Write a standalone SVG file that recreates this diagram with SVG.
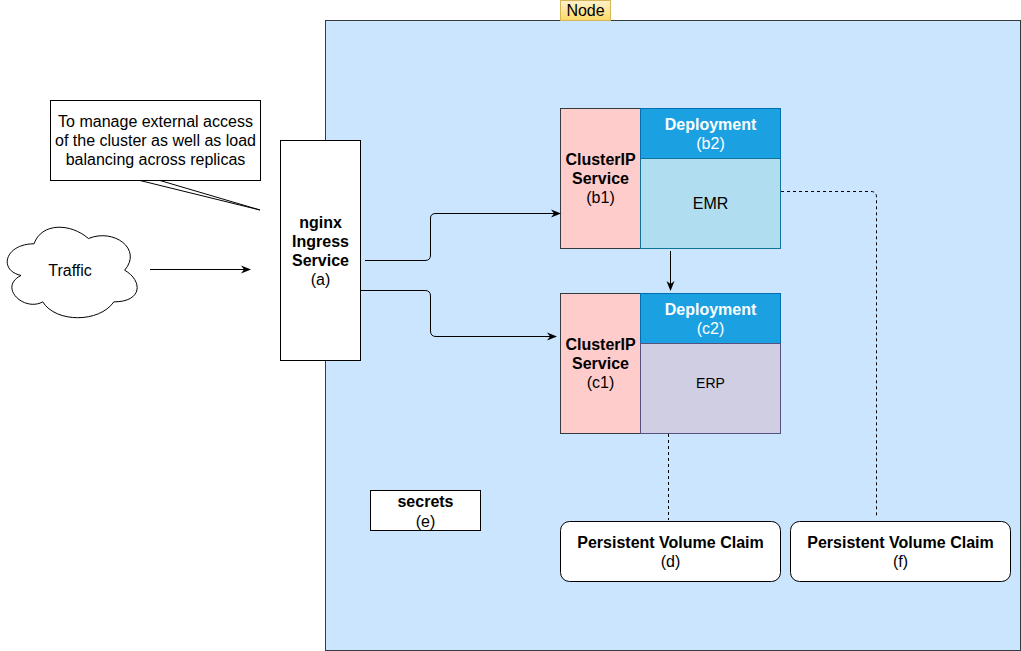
<svg xmlns="http://www.w3.org/2000/svg" width="1021" height="651" viewBox="0 0 1021 651">
<defs>
<linearGradient id="ng" x1="0" y1="0" x2="0" y2="1"><stop offset="0" stop-color="#fff2cc"/><stop offset="1" stop-color="#ffd966"/></linearGradient>
<marker id="ar" viewBox="0 0 10 10" refX="9" refY="5" markerWidth="10" markerHeight="10" markerUnits="userSpaceOnUse" orient="auto"><path d="M0,1 L10,5 L0,9 L3,5 Z" fill="#000"/></marker>
</defs>
<style>
text{font-family:"Liberation Sans",Arial,Helvetica,sans-serif;font-size:16px;text-anchor:middle;fill:#000}
.b{font-weight:bold}
.w{fill:#fff}
.conn{fill:none;stroke:#000;stroke-width:1}
.dash{fill:none;stroke:#000;stroke-width:1;stroke-dasharray:3 3}
.box{fill:#fff;stroke:#000;stroke-width:1}
</style>
<rect width="1021" height="651" fill="#fff"/>
<g id="node-container">
<rect x="325.5" y="20.5" width="695" height="630" fill="#cce5ff" stroke="#36393d"/>
<rect x="560.5" y="0.5" width="50" height="20" fill="url(#ng)" stroke="#d6b656"/>
<text x="585.5" y="16">Node</text>
</g>
<g id="callout">
<rect x="50.5" y="100.5" width="210" height="80" class="box"/>
<path d="M140,180.5 L260,210 L160,180.5" class="conn"/>
<text x="155.5" y="127">To manage external access</text>
<text x="155.5" y="146">of the cluster as well as load</text>
<text x="155.5" y="165">balancing across replicas</text>
</g>
<g id="traffic">
<path transform="translate(72,272) scale(1.133,1.2) translate(-73.5,-273.5)" vector-effect="non-scaling-stroke" d="M40,250 C14.4,250 8,272 28.5,276.4 C8,286 31,307 47.7,298.4 C59.2,316 97.6,316 110.4,298.4 C136,298.4 136,280.8 120,272 C136,254.4 110.4,236.8 88,245.6 C72,232.4 46.4,232.4 40,250 Z" fill="#fff" stroke="#000"/>
<text x="70" y="276">Traffic</text>
</g>
<g id="nginx">
<rect x="280.5" y="140.5" width="80" height="220" class="box"/>
<text x="320.5" y="228" class="b">nginx</text>
<text x="320.5" y="247" class="b">Ingress</text>
<text x="320.5" y="266" class="b">Service</text>
<text x="320.5" y="285">(a)</text>
</g>
<g id="b1">
<rect x="560.5" y="108.5" width="80" height="140" fill="#ffcccc" stroke="#36393d"/>
<text x="600.5" y="165" class="b">ClusterIP</text>
<text x="600.5" y="184" class="b">Service</text>
<text x="600.5" y="203">(b1)</text>
</g>
<g id="b2">
<rect x="640.5" y="108.5" width="140" height="50" fill="#1ba1e2" stroke="#006eaf"/>
<text x="710.5" y="130" class="b w">Deployment</text>
<text x="710.5" y="149" class="w">(b2)</text>
<rect x="640.5" y="158.5" width="140" height="90" fill="#b1ddf0" stroke="#10739e"/>
<text x="710.5" y="209">EMR</text>
</g>
<g id="c1">
<rect x="560.5" y="293.5" width="80" height="140" fill="#ffcccc" stroke="#36393d"/>
<text x="600.5" y="350" class="b">ClusterIP</text>
<text x="600.5" y="369" class="b">Service</text>
<text x="600.5" y="388">(c1)</text>
</g>
<g id="c2">
<rect x="640.5" y="293.5" width="140" height="50" fill="#1ba1e2" stroke="#006eaf"/>
<text x="710.5" y="315" class="b w">Deployment</text>
<text x="710.5" y="334" class="w">(c2)</text>
<rect x="640.5" y="343.5" width="140" height="90" fill="#d0cee2" stroke="#56517e"/>
<text x="710.5" y="388" style="font-size:14px">ERP</text>
</g>
<g id="secrets">
<rect x="370.5" y="490.5" width="110" height="40" class="box"/>
<text x="425.5" y="507" class="b">secrets</text>
<text x="425.5" y="527">(e)</text>
</g>
<g id="pvc-d">
<rect x="560.5" y="521.5" width="220" height="60" rx="9" class="box"/>
<text x="670.5" y="548" class="b">Persistent Volume Claim</text>
<text x="670.5" y="567">(d)</text>
</g>
<g id="pvc-f">
<rect x="790.5" y="521.5" width="220" height="60" rx="9" class="box"/>
<text x="900.5" y="548" class="b">Persistent Volume Claim</text>
<text x="900.5" y="567">(f)</text>
</g>
<g id="connectors">
<path d="M150,269.5 L250,269.5" class="conn" marker-end="url(#ar)"/>
<path d="M365,260.5 L425,260.5 Q430.5,260.5 430.5,255 L430.5,218 Q430.5,213.5 436,213.5 L560,213.5" class="conn" marker-end="url(#ar)"/>
<path d="M360,290.5 L425,290.5 Q430.5,290.5 430.5,296 L430.5,331 Q430.5,336.5 436,336.5 L556,336.5" class="conn" marker-end="url(#ar)"/>
<path d="M670.5,251 L670.5,290" class="conn" marker-end="url(#ar)"/>
<path d="M668.5,434 L668.5,520" class="dash"/>
<path d="M781,191.5 L871,191.5 Q876.5,191.5 876.5,197 L876.5,518" class="dash"/>
</g>
</svg>
